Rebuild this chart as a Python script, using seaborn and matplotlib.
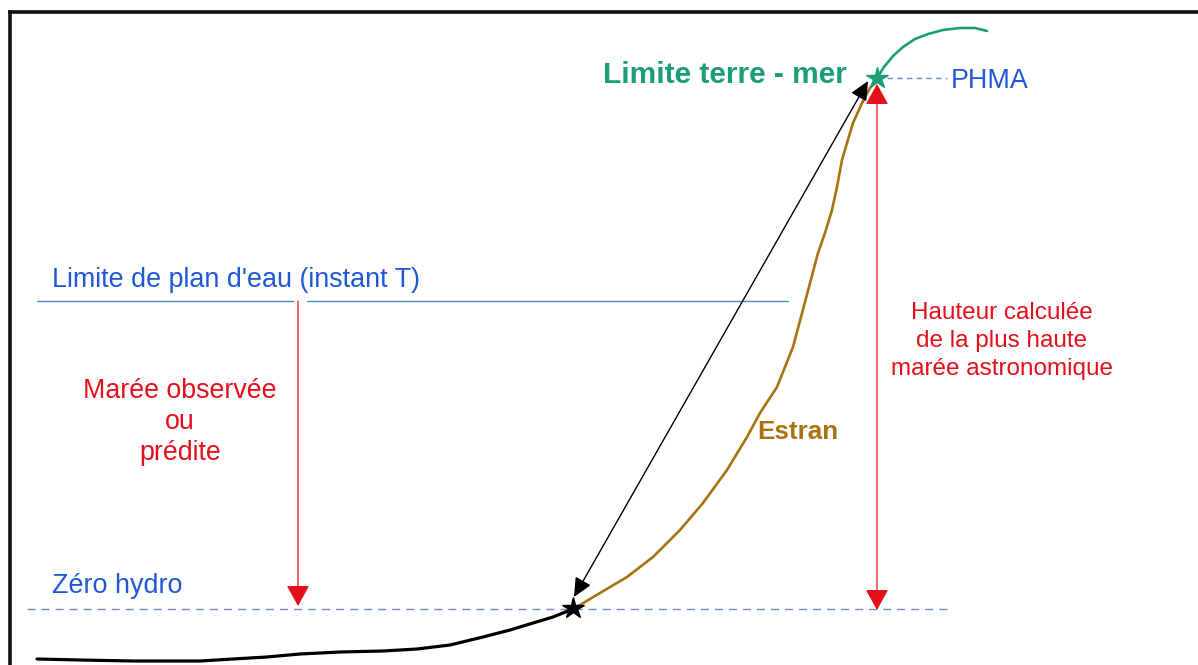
import matplotlib
matplotlib.use("Agg")
import matplotlib.pyplot as plt
import seaborn as sns

# Profile of the shore (pixel-like units, y grows downward)
bottom_x = [37, 80, 133, 200, 233, 267, 300, 340, 383, 417, 450, 483, 510, 533, 553, 573]
bottom_y = [659, 660, 661, 661, 659, 657, 654, 652, 651, 649, 645, 637, 630, 623, 617, 609]

estran_x = [573, 580, 600, 627, 653, 680, 703, 727, 747, 760, 777, 793, 805, 818,
            825, 832, 837, 842, 847, 853, 862, 870, 877]
estran_y = [608, 605, 593, 577, 557, 530, 503, 470, 437, 413, 387, 347, 302, 253,
            233, 210, 187, 160, 143, 123, 103, 88, 80]

land_x = [877, 884, 893, 903, 915, 928, 943, 960, 975, 987]
land_y = [78, 67, 56, 47, 39, 34, 30, 28, 28, 31]

# Reference levels
zero_hydro = 609
phma = 78
water_level = 301

# Colours
blue = "#1f58d4"
red = "#e3101b"
green = "#1b9d77"
brown = "#a8720f"
dash_blue = "#6c8cc4"

sns.set_theme(style="white")
plt.rcParams["font.family"] = ["Liberation Sans", "DejaVu Sans"]

fig = plt.figure(figsize=(11.98, 6.65), dpi=100)
ax = fig.add_axes([0, 0, 1, 1])
ax.set_xlim(0, 1198)
ax.set_ylim(665, 0)
ax.axis("off")

# Frame
ax.plot([10, 10], [12, 665], color="#111111", lw=2.6, solid_capstyle="projecting")
ax.plot([10, 1198], [12, 12], color="#111111", lw=2.6, solid_capstyle="projecting")

# Reference lines
ax.plot([27, 948], [zero_hydro, zero_hydro], color=dash_blue, lw=1, linestyle=(0, (5.8, 4.3)))
ax.plot([887, 947], [phma, phma], color=dash_blue, lw=1, linestyle=(0, (4, 3)))
ax.plot([37, 293], [water_level, water_level], color="#4a86c8", lw=1)
ax.plot([307, 788], [water_level, water_level], color="#4a86c8", lw=1)

# Shore profile
curve_kw = dict(sort=False, estimator=None, ax=ax, solid_joinstyle="round", solid_capstyle="round")
sns.lineplot(x=bottom_x, y=bottom_y, color="black", lw=2.3, **curve_kw)
sns.lineplot(x=estran_x, y=estran_y, color=brown, lw=1.9, **curve_kw)
sns.lineplot(x=land_x, y=land_y, color=green, lw=1.9, **curve_kw)

# Arrows
ax.annotate("", xy=(868, 81), xytext=(574, 597),
            arrowprops=dict(arrowstyle="<|-|>,head_length=0.58,head_width=0.27",
                            mutation_scale=20, color="black", lw=1, shrinkA=0, shrinkB=0))
ax.annotate("", xy=(877, 84), xytext=(877, 610),
            arrowprops=dict(arrowstyle="<|-|>,head_length=0.65,head_width=0.36",
                            mutation_scale=20, color=red, lw=0.9, shrinkA=0, shrinkB=0))
ax.annotate("", xy=(298, 606), xytext=(298, 301),
            arrowprops=dict(arrowstyle="-|>,head_length=0.65,head_width=0.36",
                            mutation_scale=20, color=red, lw=0.9, shrinkA=0, shrinkB=0))

# Stars
ax.plot([estran_x[0]], [estran_y[0]], marker="*", ms=16, color="black", ls="none")
ax.plot([land_x[0]], [land_y[0]], marker="*", ms=16, color=green, ls="none")

# Labels
ax.text(725, 83, "Limite terre - mer", color=green, fontsize=21.5, fontweight="bold",
        ha="center", va="baseline")
ax.text(951, 88, "PHMA", color=blue, fontsize=19.4, ha="left", va="baseline")
ax.text(52, 287, "Limite de plan d'eau (instant T)", color=blue, fontsize=19.4,
        ha="left", va="baseline")
ax.text(52, 593, "Zéro hydro", color=blue, fontsize=19.4, ha="left", va="baseline")
ax.text(757, 439, "Estran", color=brown, fontsize=18.7, fontweight="bold",
        ha="left", va="baseline")

for i, line in enumerate(["Marée observée", "ou", "prédite"]):
    ax.text(180, 398 + i * 31, line, color=red, fontsize=19.3, ha="center", va="baseline")

for i, line in enumerate(["Hauteur calculée", "de la plus haute", "marée astronomique"]):
    ax.text(1002, 319 + i * 28, line, color=red, fontsize=17.5, ha="center", va="baseline")

fig.savefig("out.png", dpi=100, facecolor="white")
